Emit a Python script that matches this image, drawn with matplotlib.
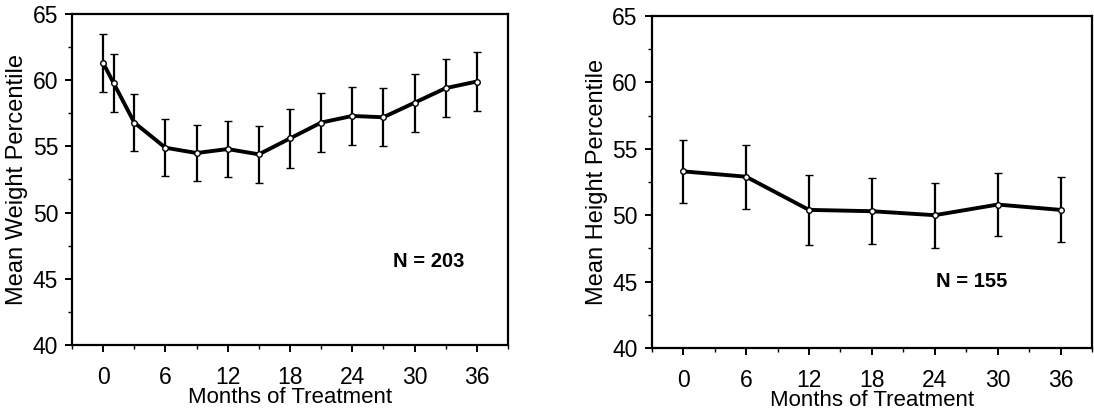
import matplotlib.pyplot as plt
from matplotlib.ticker import MultipleLocator

plt.rcParams['font.family'] = ['Liberation Sans', 'DejaVu Sans']

# weight percentile over treatment
weight_months = [0, 1, 3, 6, 9, 12, 15, 18, 21, 24, 27, 30, 33, 36]
weight_mean = [61.3, 59.8, 56.8, 54.9, 54.5, 54.8, 54.4, 55.6, 56.8, 57.3, 57.2, 58.3, 59.4, 59.9]
weight_err = [2.2, 2.2, 2.15, 2.15, 2.15, 2.1, 2.15, 2.2, 2.2, 2.2, 2.2, 2.2, 2.2, 2.2]

# height percentile over treatment
height_months = [0, 6, 12, 18, 24, 30, 36]
height_mean = [53.3, 52.9, 50.4, 50.3, 50.0, 50.8, 50.4]
height_err = [2.4, 2.4, 2.65, 2.5, 2.45, 2.35, 2.45]

xticks = [0, 6, 12, 18, 24, 30, 36]

fig = plt.figure(figsize=(10.94, 4.17), dpi=100)
ax1 = fig.add_axes([0.0658, 0.1727, 0.3985, 0.7937])
ax2 = fig.add_axes([0.5957, 0.1655, 0.4025, 0.7961])

panels = [
    (ax1, weight_months, weight_mean, weight_err, "Mean Weight Percentile", "N = 203", (31.4, 46.3)),
    (ax2, height_months, height_mean, height_err, "Mean Height Percentile", "N = 155", (27.5, 45.0)),
]

for ax, x, y, err, ylabel, ntext, npos in panels:
    ax.errorbar(x, y, yerr=err, color='black', lw=2.8, elinewidth=1.6,
                capsize=3, capthick=1.6, marker='o', ms=4,
                mfc='white', mec='black', mew=1.0, zorder=3)
    ax.set_xlim(-3, 39)
    ax.set_ylim(40, 65)
    ax.set_xticks(xticks)
    ax.set_yticks([40, 45, 50, 55, 60, 65])
    ax.xaxis.set_minor_locator(MultipleLocator(3))
    ax.yaxis.set_minor_locator(MultipleLocator(2.5))
    ax.tick_params(which='major', direction='out', length=5, width=1.4, labelsize=16.5)
    ax.tick_params(which='minor', direction='out', length=3, width=1.0)
    ax.tick_params(axis='x', pad=10)
    ax.tick_params(axis='y', pad=5)
    for s in ax.spines.values():
        s.set_linewidth(1.6)
    ax.set_xlabel("Months of Treatment", fontsize=16, labelpad=-1)
    ax.set_ylabel(ylabel, fontsize=17, labelpad=3)
    ax.text(npos[0], npos[1], ntext, fontsize=14.5, fontweight='bold',
            ha='center', va='center')

plt.savefig('out.png', dpi=100)
